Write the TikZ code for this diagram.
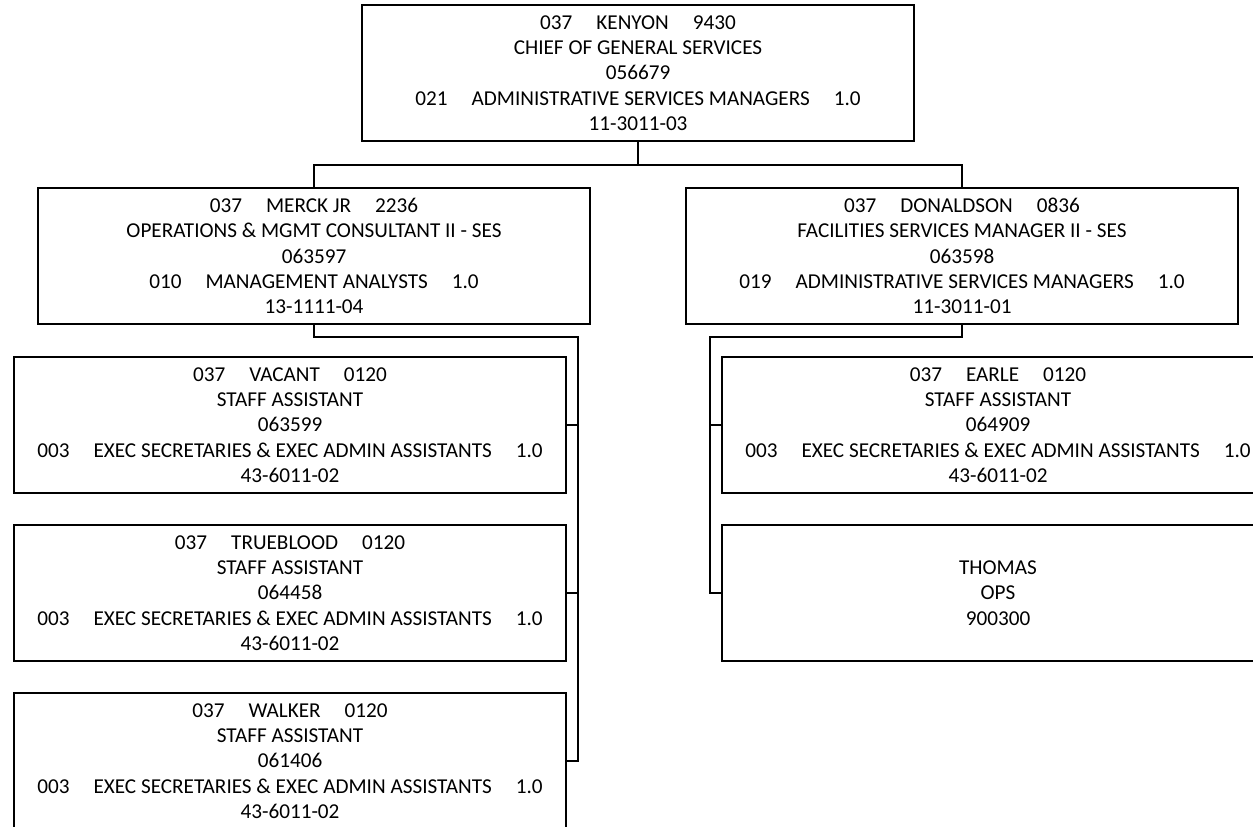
\documentclass[tikz,border=0pt]{standalone}
\usepackage{fontspec}
\setmainfont{Carlito}
\newcommand\gp{\hspace{18pt}}
\begin{document}
\begin{tikzpicture}[x=0.75pt, y=-0.75pt,
  box/.style={draw, line width=1.5pt, minimum width=414pt, minimum height=102pt,
    inner sep=0pt, outer sep=0pt, align=center,
    font=\fontsize{15.9}{19}\selectfont},
  link/.style={draw, line width=1.5pt}]
\useasboundingbox (0,0) rectangle (1253,826);
\clip (0,0) rectangle (1253,826);

% head of the unit
\node[box] (kenyon) at (638,73)
  {037\gp KENYON\gp 9430\\CHIEF OF GENERAL SERVICES\\056679\\
   021\gp ADMINISTRATIVE SERVICES MANAGERS\gp 1.0\\11-3011-03};

% second level
\node[box] (merck) at (314,256)
  {037\gp MERCK JR\gp 2236\\OPERATIONS \& MGMT CONSULTANT II - SES\\063597\\
   010\gp MANAGEMENT ANALYSTS\gp 1.0\\13-1111-04};
\node[box] (donaldson) at (962,256)
  {037\gp DONALDSON\gp 0836\\FACILITIES SERVICES MANAGER II - SES\\063598\\
   019\gp ADMINISTRATIVE SERVICES MANAGERS\gp 1.0\\11-3011-01};

% staff under MERCK JR
\node[box] (vacant) at (290,425)
  {037\gp VACANT\gp 0120\\STAFF ASSISTANT\\063599\\
   003\gp EXEC SECRETARIES \& EXEC ADMIN ASSISTANTS\gp 1.0\\43-6011-02};
\node[box] (trueblood) at (290,593)
  {037\gp TRUEBLOOD\gp 0120\\STAFF ASSISTANT\\064458\\
   003\gp EXEC SECRETARIES \& EXEC ADMIN ASSISTANTS\gp 1.0\\43-6011-02};
\node[box] (walker) at (290,761)
  {037\gp WALKER\gp 0120\\STAFF ASSISTANT\\061406\\
   003\gp EXEC SECRETARIES \& EXEC ADMIN ASSISTANTS\gp 1.0\\43-6011-02};

% staff under DONALDSON
\node[box] (earle) at (998,425)
  {037\gp EARLE\gp 0120\\STAFF ASSISTANT\\064909\\
   003\gp EXEC SECRETARIES \& EXEC ADMIN ASSISTANTS\gp 1.0\\43-6011-02};
\node[box] (thomas) at (998,593)
  {THOMAS\\OPS\\900300};

% connectors
\coordinate (bar) at (638,165);
\coordinate (lbus) at (578,337);
\coordinate (rbus) at (710,337);

\path[link] (kenyon.south) -- (bar) -| (merck.north);
\path[link] (bar) -| (donaldson.north);

\path[link] (merck.south) |- (lbus) |- (vacant.east);
\path[link] (lbus) |- (trueblood.east);
\path[link] (lbus) |- (walker.east);

\path[link] (donaldson.south) |- (rbus) |- (earle.west);
\path[link] (rbus) |- (thomas.west);
\end{tikzpicture}
\end{document}
